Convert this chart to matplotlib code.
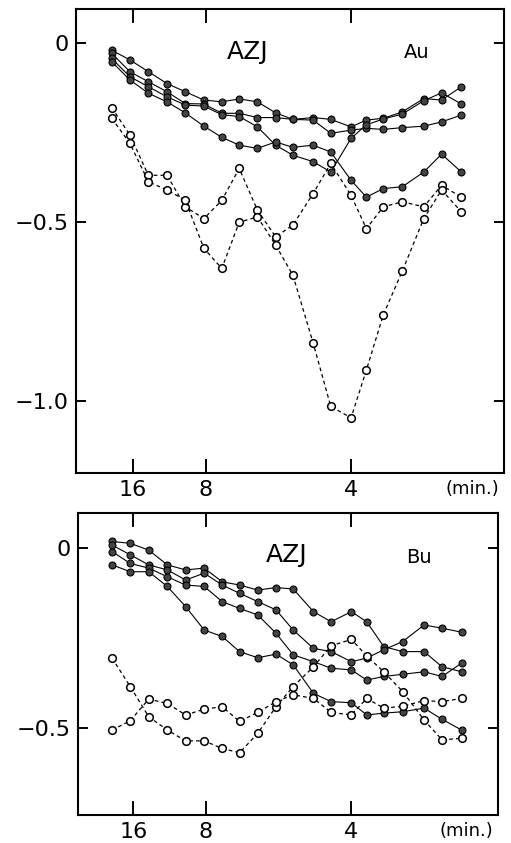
import numpy as np
import matplotlib.pyplot as plt

plt.rcParams["font.family"] = "DejaVu Sans"

# elapsed time (min) of each point, plotted on a 1/t axis
times = [22.6, 16.7, 13.2, 10.9, 9.3, 8.1, 7.2, 6.5, 5.9, 5.4,
         5.0, 4.6, 4.3, 4.0, 3.8, 3.6, 3.4, 3.2, 3.05, 2.9]
tick_times = [16, 8, 4]
tick_labels = ['16', '8', '4']

# Au panel
au_f1 = [-0.020, -0.047, -0.080, -0.113, -0.136, -0.159, -0.164, -0.156, -0.164, -0.195,
         -0.213, -0.208, -0.213, -0.234, -0.215, -0.210, -0.192, -0.155, -0.159, -0.122]
au_f2 = [-0.029, -0.080, -0.108, -0.136, -0.169, -0.170, -0.196, -0.196, -0.208, -0.208,
         -0.213, -0.215, -0.252, -0.243, -0.238, -0.241, -0.236, -0.232, -0.220, -0.201]
au_f3 = [-0.043, -0.094, -0.122, -0.150, -0.173, -0.176, -0.200, -0.205, -0.234, -0.285,
         -0.313, -0.331, -0.360, -0.266, -0.228, -0.212, -0.198, -0.161, -0.139, -0.170]
au_f4 = [-0.052, -0.103, -0.140, -0.164, -0.195, -0.232, -0.263, -0.285, -0.294, -0.276,
         -0.291, -0.285, -0.304, -0.383, -0.430, -0.406, -0.401, -0.360, -0.310, -0.360]
au_o1 = [-0.180, -0.257, -0.369, -0.369, -0.457, -0.490, -0.439, -0.350, -0.466, -0.541,
         -0.508, -0.420, -0.336, -0.425, -0.518, -0.457, -0.443, -0.457, -0.397, -0.430]
au_o2 = [-0.210, -0.280, -0.387, -0.410, -0.439, -0.573, -0.629, -0.500, -0.485, -0.564,
         -0.648, -0.837, -1.014, -1.046, -0.913, -0.758, -0.636, -0.490, -0.410, -0.471]

# Bu panel
bu_f1 = [0.018, 0.013, -0.006, -0.047, -0.061, -0.056, -0.094, -0.103, -0.117, -0.110,
         -0.114, -0.177, -0.205, -0.177, -0.205, -0.274, -0.288, -0.288, -0.330, -0.344]
bu_f2 = [0.008, -0.019, -0.047, -0.061, -0.089, -0.070, -0.103, -0.126, -0.149, -0.172,
         -0.228, -0.279, -0.288, -0.316, -0.306, -0.283, -0.260, -0.214, -0.223, -0.234]
bu_f3 = [-0.010, -0.043, -0.056, -0.080, -0.103, -0.107, -0.149, -0.168, -0.186, -0.237,
         -0.297, -0.316, -0.334, -0.339, -0.367, -0.357, -0.351, -0.344, -0.357, -0.320]
bu_f4 = [-0.047, -0.066, -0.066, -0.107, -0.163, -0.228, -0.246, -0.288, -0.305, -0.295,
         -0.325, -0.404, -0.427, -0.430, -0.464, -0.459, -0.455, -0.445, -0.476, -0.506]
bu_o1 = [-0.306, -0.385, -0.469, -0.506, -0.536, -0.536, -0.557, -0.569, -0.515, -0.441,
         -0.385, -0.330, -0.272, -0.254, -0.300, -0.344, -0.399, -0.478, -0.533, -0.529]
bu_o2 = [-0.506, -0.480, -0.420, -0.432, -0.464, -0.448, -0.441, -0.482, -0.457, -0.427,
         -0.408, -0.418, -0.457, -0.464, -0.418, -0.445, -0.440, -0.424, -0.427, -0.418]

x = 1.0 / np.array(times)

fig = plt.figure(figsize=(5.11, 8.43), dpi=100)
ax1 = fig.add_axes([0.1487, 0.4389, 0.8376, 0.5504])
ax2 = fig.add_axes([0.1526, 0.0332, 0.8219, 0.3582])


def draw(ax, filled, opened, ylim, yticks, yticklabels, xlim, band, azj_pos, band_pos):
    for y in filled:
        ax.plot(x, y, color='k', lw=0.8, marker='o', ms=5, mfc='#444444',
                mec='k', mew=0.8, zorder=2)
    for y in opened:
        ax.plot(x, y, color='k', lw=0.9, ls=(0, (3, 2.5)), marker='o', ms=5.5,
                mfc='white', mec='k', mew=1.1, zorder=3)
    ax.set_xlim(*xlim)
    ax.set_ylim(*ylim)
    ax.set_xticks([1.0 / t for t in tick_times])
    ax.set_xticklabels(tick_labels)
    ax.set_yticks(yticks)
    ax.set_yticklabels(yticklabels)
    ax.tick_params(axis='both', direction='in', top=True, right=True,
                   width=1.4, labelsize=16)
    ax.tick_params(axis='x', length=10, pad=5)
    ax.tick_params(axis='y', length=7, pad=5)
    for s in ax.spines.values():
        s.set_linewidth(1.5)
    ax.text(azj_pos[0], azj_pos[1], 'AZJ', transform=ax.transAxes,
            fontsize=18, ha='center', va='center')
    ax.text(band_pos[0], band_pos[1], band, transform=ax.transAxes,
            fontsize=14, ha='center', va='center')
    ax.annotate('(min.)', xy=(0.925, 0), xycoords='axes fraction',
                xytext=(0, -5), textcoords='offset points',
                ha='center', va='top', fontsize=13)


draw(ax1, [au_f1, au_f2, au_f3, au_f4], [au_o1, au_o2],
     (-1.2, 0.095), [0, -0.5, -1.0], ['0', '\u22120.5', '\u22121.0'],
     (0.0135, 0.3815), 'Au', (0.40, 0.907), (0.797, 0.907))
draw(ax2, [bu_f1, bu_f2, bu_f3, bu_f4], [bu_o1, bu_o2],
     (-0.742, 0.097), [0, -0.5], ['0', '\u22120.5'],
     (0.01495, 0.376), 'Bu', (0.498, 0.861), (0.812, 0.854))

fig.savefig('out.png', dpi=100)
